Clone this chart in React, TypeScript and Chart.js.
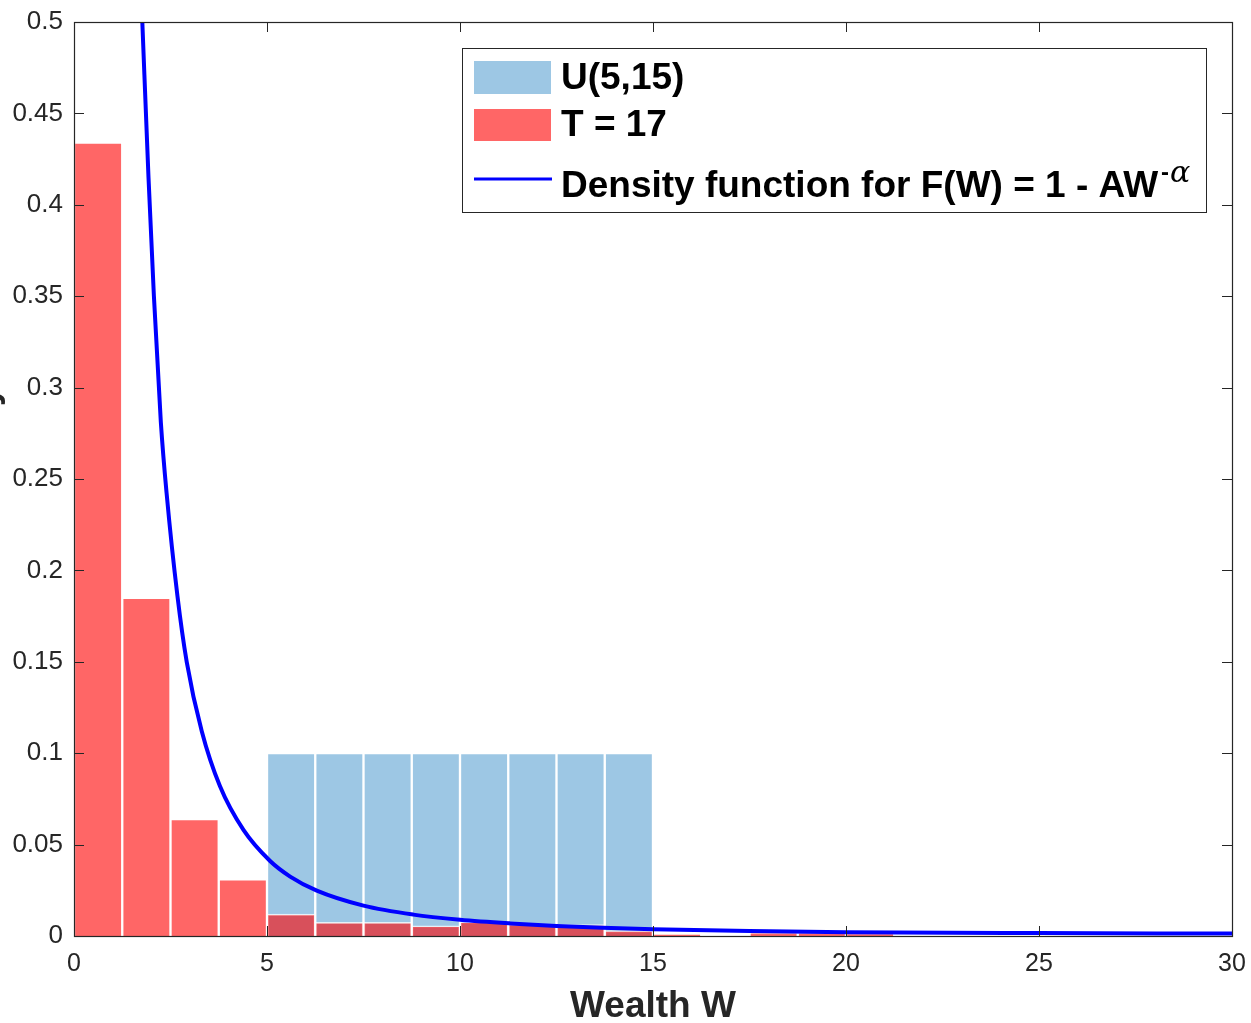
import React, { useEffect, useRef } from "react";
import { Chart, registerables } from "chart.js";

Chart.register(...registerables);

// ---- data ----
const redBinCenters = [0.625, 1.875, 3.125, 4.375, 5.625, 6.875, 8.125, 9.375, 10.625, 11.875, 13.125, 14.375, 15.625, 16.875, 18.125, 19.375, 20.625];
const redValues = [0.434, 0.185, 0.064, 0.031, 0.012, 0.0075, 0.0075, 0.0056, 0.0078, 0.0065, 0.0062, 0.0029, 0.001, 0.0, 0.002, 0.002, 0.0015];

const blueBinCenters = [5.625, 6.875, 8.125, 9.375, 10.625, 11.875, 13.125, 14.375];
const blueValues = [0.1, 0.1, 0.1, 0.1, 0.1, 0.1, 0.1, 0.1];

const curveW = [1.77, 1.93, 2.07, 2.25, 2.4, 2.68, 2.92, 3.31, 3.78, 4.39, 5.08, 5.6, 6.29, 7.5, 8.79, 10, 11.3, 12.5, 13.7, 15, 17.5, 20, 25, 30];
const curveDensity = [0.5, 0.415, 0.35, 0.281, 0.242, 0.186, 0.15, 0.112, 0.082, 0.058, 0.041, 0.0325, 0.0248, 0.0166, 0.0117, 0.0089, 0.0069, 0.0055, 0.0045, 0.0037, 0.0027, 0.0021, 0.0016, 0.0013];

const xTickValues = [0, 5, 10, 15, 20, 25, 30];
const yTickValues = [0, 0.05, 0.1, 0.15, 0.2, 0.25, 0.3, 0.35, 0.4, 0.45, 0.5];

const legendLabels = ["U(5,15)", "T = 17", "Density function for F(W) = 1 - AW"];
const legendSup = ["-", "\u03B1"];
const xTitle = "Wealth W";
const yTitle = "Probability";

const FONT = "'Liberation Sans', Arial, Helvetica, sans-serif";
const AXIS_COLOR = "#262626";
const BLUE_FILL = "rgb(157,199,228)";
const RED_FILL = "rgba(255,0,0,0.6)";
const LINE_BLUE = "#0000ff";

const decorPlugin = {
  id: "decor",
  afterDatasetsDraw(chart: any) {
    const { ctx, chartArea } = chart;
    const { left, right, top, bottom } = chartArea;
    const xs = chart.scales.x;
    const ys = chart.scales.y;
    ctx.save();
    ctx.strokeStyle = AXIS_COLOR;
    ctx.lineWidth = 1;
    const tl = 10;
    ctx.beginPath();
    for (const v of xTickValues) {
      const px = Math.round(xs.getPixelForValue(v)) + 0.5;
      ctx.moveTo(px, bottom);
      ctx.lineTo(px, bottom - tl);
      ctx.moveTo(px, top);
      ctx.lineTo(px, top + tl);
    }
    for (const v of yTickValues) {
      const py = Math.round(ys.getPixelForValue(v)) + 0.5;
      ctx.moveTo(left, py);
      ctx.lineTo(left + tl, py);
      ctx.moveTo(right, py);
      ctx.lineTo(right - tl, py);
    }
    ctx.stroke();
    ctx.lineWidth = 1.2;
    ctx.strokeRect(Math.round(left) + 0.5, Math.round(top) + 0.5, Math.round(right - left), Math.round(bottom - top));
    ctx.restore();
  },
  afterDraw(chart: any) {
    const { ctx, chartArea } = chart;
    ctx.save();
    // legend box
    const bx = 462, by = 48, bw = 744, bh = 164;
    ctx.fillStyle = "#ffffff";
    ctx.fillRect(bx, by, bw, bh);
    ctx.strokeStyle = AXIS_COLOR;
    ctx.lineWidth = 1;
    ctx.strokeRect(bx + 0.5, by + 0.5, bw, bh);

    // patches
    ctx.fillStyle = BLUE_FILL;
    ctx.fillRect(474, 61, 77, 33);
    ctx.fillStyle = "rgb(255,102,102)";
    ctx.fillRect(474, 109, 77, 32);
    ctx.strokeStyle = LINE_BLUE;
    ctx.lineWidth = 3;
    ctx.beginPath();
    ctx.moveTo(474, 179);
    ctx.lineTo(552, 179);
    ctx.stroke();

    ctx.fillStyle = "#000000";
    ctx.font = `bold 37px ${FONT}`;
    ctx.textAlign = "left";
    ctx.textBaseline = "middle";
    ctx.fillText(legendLabels[0], 561, 79);
    ctx.fillText(legendLabels[1], 561, 126);
    ctx.fillText(legendLabels[2], 561, 187);
    const w = ctx.measureText(legendLabels[2]).width;
    ctx.textBaseline = "alphabetic";
    ctx.font = `bold 24px ${FONT}`;
    ctx.fillText(legendSup[0], 561 + w + 3, 180);
    const wm = ctx.measureText(legendSup[0]).width;
    ctx.font = `italic 30px 'DejaVu Serif', 'Liberation Serif', serif`;
    ctx.fillText(legendSup[1], 561 + w + 3 + wm + 1, 182);

    // y title (mostly cut off at the left edge)
    ctx.save();
    ctx.translate(-3, (chartArea.top + chartArea.bottom) / 2);
    ctx.rotate(-Math.PI / 2);
    ctx.font = `bold 36px ${FONT}`;
    ctx.textAlign = "center";
    ctx.textBaseline = "alphabetic";
    ctx.fillStyle = AXIS_COLOR;
    ctx.fillText(yTitle, 0, 0);
    ctx.restore();
    ctx.restore();
  },
};

export default function App() {
  const ref = useRef<HTMLCanvasElement | null>(null);
  useEffect(() => {
    if (!ref.current) return;
    const chart = new Chart(ref.current, {
      type: "bar",
      data: {
        datasets: [
          {
            type: "line",
            label: "Density",
            data: curveW.map((x, i) => ({ x, y: curveDensity[i] })),
            borderColor: LINE_BLUE,
            borderWidth: 4,
            pointRadius: 0,
            fill: false,
            cubicInterpolationMode: "monotone",
            order: 0,
          } as any,
          {
            label: "T = 17",
            data: redBinCenters.map((x, i) => ({ x, y: redValues[i] })),
            backgroundColor: RED_FILL,
            borderColor: "rgba(255,255,255,0.75)",
            borderWidth: 1.5,
            grouped: false,
            barPercentage: 1,
            categoryPercentage: 1,
            order: 1,
          } as any,
          {
            label: "U(5,15)",
            data: blueBinCenters.map((x, i) => ({ x, y: blueValues[i] })),
            backgroundColor: BLUE_FILL,
            borderColor: "#ffffff",
            borderWidth: 1.5,
            grouped: false,
            barPercentage: 1,
            categoryPercentage: 1,
            order: 2,
          } as any,
        ],
      },
      options: {
        animation: false,
        responsive: false,
        maintainAspectRatio: false,
        layout: { padding: { left: 0, right: 19, top: 22, bottom: 0 } },
        plugins: { legend: { display: false }, tooltip: { enabled: false } },
        scales: {
          x: {
            type: "linear",
            min: 0,
            max: 30,
            offset: false,
            grid: { display: false, drawTicks: false },
            border: { display: false },
            afterBuildTicks: (scale: any) => {
              scale.ticks = xTickValues.map((v) => ({ value: v }));
            },
            ticks: {
              color: AXIS_COLOR,
              font: { family: FONT, size: 25 },
              padding: 13,
              maxRotation: 0,
              autoSkip: false,
              callback: (v: any) => String(v),
            },
            title: {
              display: true,
              text: xTitle,
              color: AXIS_COLOR,
              font: { family: FONT, size: 37, weight: "bold", lineHeight: 0.9 },
              padding: { top: 0, bottom: 0 },
            },
            afterFit: (scale: any) => {
              scale.height = 87;
              scale.paddingLeft = 0;
              scale.paddingRight = 0;
            },
          },
          y: {
            type: "linear",
            min: 0,
            max: 0.5,
            grid: { display: false, drawTicks: false },
            border: { display: false },
            afterBuildTicks: (scale: any) => {
              scale.ticks = yTickValues.map((v) => ({ value: v }));
            },
            ticks: {
              color: AXIS_COLOR,
              font: { family: FONT, size: 26 },
              padding: 11,
              autoSkip: false,
              callback: (v: any) => String(Number(Number(v).toFixed(2))),
            },
            afterFit: (scale: any) => {
              scale.width = 74;
              scale.paddingTop = 0;
              scale.paddingBottom = 0;
            },
          },
        },
      } as any,
      plugins: [decorPlugin],
    });
    return () => chart.destroy();
  }, []);
  return (
    <div style={{ position: "fixed", left: 0, top: 0, width: 1251, height: 1023, background: "#fff" }}>
      <canvas ref={ref} width={1251} height={1023} style={{ width: 1251, height: 1023, display: "block" }} />
    </div>
  );
}
